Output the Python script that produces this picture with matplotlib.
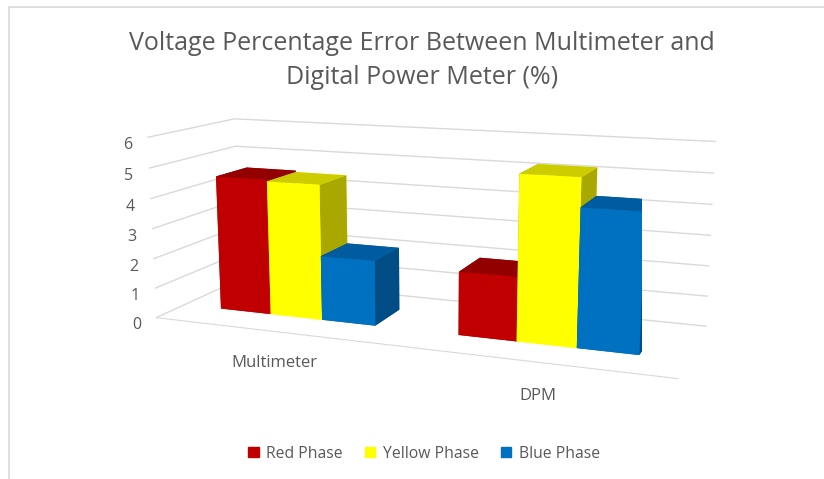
import numpy as np
import matplotlib
matplotlib.use("Agg")
import matplotlib.pyplot as plt
from matplotlib.patches import Rectangle
from mpl_toolkits.mplot3d import Axes3D  # noqa

categories = ["Multimeter", "DPM"]
series_names = ["Red Phase", "Yellow Phase", "Blue Phase"]
red_phase = [4.55, 2.05]
yellow_phase = [4.5, 5.25]
blue_phase = [2.15, 4.35]
z_ticks = [0, 1, 2, 3, 4, 5, 6]

# front, top, side colours per series
face_cols = [
    ("#C00000", "#930000", "#8A0000"),
    ("#FFFF00", "#CCCC00", "#A8A800"),
    ("#0070C0", "#005C9E", "#004C84"),
]
series = [red_phase, yellow_phase, blue_phase]

plt.rcParams['font.family'] = ['Open Sans', 'DejaVu Sans']
fig = plt.figure(figsize=(8.24, 4.79), dpi=100)
ax = fig.add_axes([-0.038, 0.043, 1.1, 0.92], projection='3d', proj_type='persp', focal_length=0.5)

gap = 1.5
nser = len(series)
cluster = nser + gap
depth0, depth1 = 0.85, 1.85
for ci, cat in enumerate(categories):
    for si, vals in enumerate(series):
        x0 = ci * cluster + si
        fr, tp, sd = face_cols[si]
        # face order: bottom, top, front(-y), back(+y), left(-x), right(+x)
        ax.bar3d(x0, depth0, 0, 1, depth1 - depth0, vals[ci],
                 color=[fr, tp, fr, fr, sd, sd], shade=False, edgecolor='none')

xmin, xmax = -gap / 2, 2 * cluster - gap / 2
ax.set_xlim(xmin, xmax)
ax.set_ylim(0, 2.7)
ax.set_zlim(0, 6)
ax.set_box_aspect((9, 2.9, 3.15), zoom=1.3)
ax.view_init(elev=12, azim=-69)

for axis in (ax.xaxis, ax.yaxis, ax.zaxis):
    axis.set_pane_color((1, 1, 1, 0))
    axis.pane.set_edgecolor((1, 1, 1, 0))
ax.xaxis._axinfo['grid'].update(color=(1, 1, 1, 0))
ax.yaxis._axinfo['grid'].update(color=(1, 1, 1, 0))
ax.zaxis._axinfo['grid'].update(color='#d9d9d9', linewidth=1.0)
ax.set_xticks([i * cluster + nser / 2 + 0.2 for i in range(len(categories))])
ax.set_xticklabels(categories, fontsize=12, color='#595959')
ax.set_yticks([])
ax.set_zticks(z_ticks)
ax.set_zticklabels([str(t) for t in z_ticks], fontsize=11.5, color='#595959')
ax.zaxis.set_ticks_position('lower')
ax.xaxis.line.set_color('#d9d9d9')
ax.yaxis.line.set_color((1, 1, 1, 0))
ax.zaxis.line.set_color((1, 1, 1, 0))
ax.tick_params(axis='x', length=0, pad=8)
ax.tick_params(axis='z', length=0, pad=-2)
ax.xaxis._axinfo['tick'].update(inward_factor=0, outward_factor=0)
ax.zaxis._axinfo['tick'].update(inward_factor=0, outward_factor=0)

fig.text(0.512, 0.935, "Voltage Percentage Error Between Multimeter and\nDigital Power Meter (%)",
         ha='center', va='top', fontsize=18, color='#595959', linespacing=1.45)

handles = [Rectangle((0, 0), 1, 1, color=c[0]) for c in face_cols]
fig.legend(handles, series_names, loc='center', bbox_to_anchor=(0.515, 0.053), ncol=3,
           frameon=False, fontsize=11.3, labelcolor='#595959', handlelength=0.65, handleheight=0.65,
           columnspacing=1.4, handletextpad=0.5)

border = Rectangle((9 / 824, -0.1), 1.2, 1 - 6.5 / 479 + 0.1, transform=fig.transFigure,
                   fill=False, edgecolor='#d9d9d9', linewidth=1.2)
fig.patches.append(border)

fig.savefig("out.png", dpi=100)
